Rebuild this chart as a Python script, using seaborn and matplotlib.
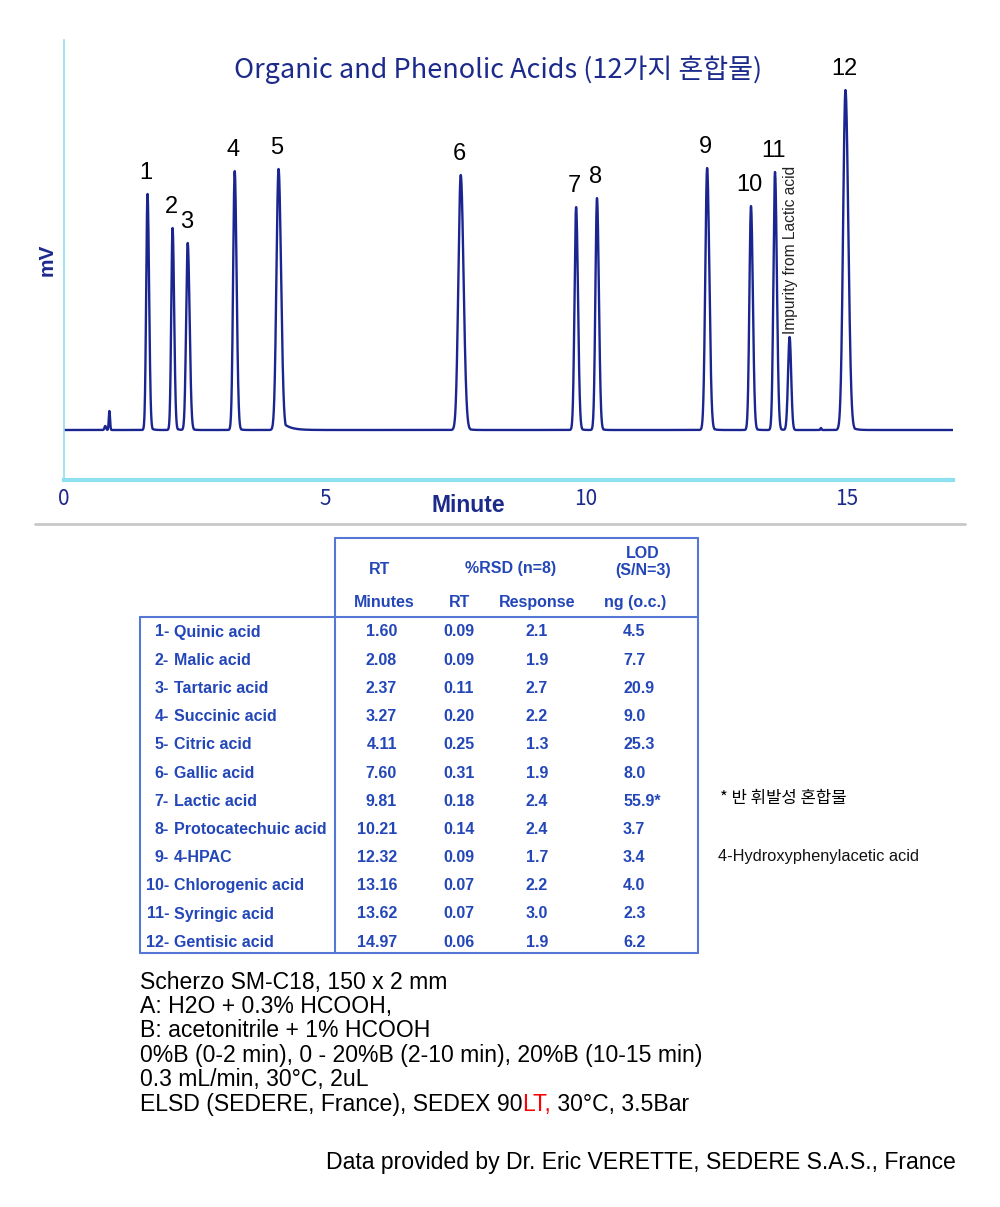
import numpy as np
import pandas as pd
import matplotlib
matplotlib.use("Agg")
import matplotlib.pyplot as plt
import seaborn as sns
from matplotlib.lines import Line2D

# peak data
peak_labels = ["1", "2", "3", "4", "5", "6", "7", "8", "9", "10", "11", "12"]
peak_rt = [1.60, 2.08, 2.37, 3.27, 4.11, 7.60, 9.81, 10.21, 12.32, 13.16, 13.62, 14.97]
peak_height = [236, 202, 187, 259, 261, 255, 223, 232, 262, 224, 258, 340]
peak_sigma = [0.025, 0.025, 0.03, 0.03, 0.04, 0.045, 0.03, 0.03, 0.035, 0.03, 0.03, 0.045]
peak_tail = [0.04, 0.04, 0.04, 0.04, 0.14, 0.06, 0.04, 0.04, 0.05, 0.04, 0.04, 0.07]

# minor peaks (void bump + impurity)
minor_rt = [0.79, 0.87, 13.90, 14.50]
minor_height = [4, 19, 93, 2]
minor_sigma = [0.015, 0.012, 0.03, 0.01]

# table
compounds = ["Quinic acid", "Malic acid", "Tartaric acid", "Succinic acid", "Citric acid",
             "Gallic acid", "Lactic acid", "Protocatechuic acid", "4-HPAC",
             "Chlorogenic acid", "Syringic acid", "Gentisic acid"]
rt_minutes = ["1.60", "2.08", "2.37", "3.27", "4.11", "7.60", "9.81", "10.21", "12.32", "13.16", "13.62", "14.97"]
rsd_rt = ["0.09", "0.09", "0.11", "0.20", "0.25", "0.31", "0.18", "0.14", "0.09", "0.07", "0.07", "0.06"]
rsd_response = ["2.1", "1.9", "2.7", "2.2", "1.3", "1.9", "2.4", "2.4", "1.7", "2.2", "3.0", "1.9"]
lod = ["4.5", "7.7", "20.9", "9.0", "25.3", "8.0", "55.9*", "3.7", "3.4", "4.0", "2.3", "6.2"]

conditions = [
    "Scherzo SM-C18, 150 x 2 mm",
    "A: H2O + 0.3% HCOOH,",
    "B: acetonitrile + 1% HCOOH",
    "0%B (0-2 min), 0 - 20%B (2-10 min), 20%B (10-15 min)",
    "0.3 mL/min, 30°C, 2uL",
]

sns.set_style("white")
plt.rcParams['font.family'] = ['Liberation Sans', 'Noto Sans CJK KR', 'DejaVu Sans']

NAVY = "#1c2a8c"
LINE = "#1a2590"
CYAN = "#8fe0ee"
TBLUE = "#2346b8"
TLINE = "#5577d6"

W, H = 1000, 1207
fig = plt.figure(figsize=(W / 100, H / 100), dpi=100)


def fx(px):
    return px / W


def fy(py):
    return 1 - py / H


# trace built from the peak table
t = np.linspace(0, 17.05, 6000)
signal = np.zeros_like(t)
for rt, h, s, tl in zip(peak_rt, peak_height, peak_sigma, peak_tail):
    left = np.exp(-0.5 * ((t - rt) / s) ** 2)
    sig = np.where(t < rt, left, np.exp(-0.5 * ((t - rt) / (s * 1.2)) ** 2))
    tailpart = np.where(t < rt, 0, 0.05 * np.exp(-(t - rt) / tl))
    signal += h * np.maximum(sig, tailpart)
for rt, h, s in zip(minor_rt, minor_height, minor_sigma):
    signal += h * np.exp(-0.5 * ((t - rt) / s) ** 2)
trace = pd.DataFrame({"min": t, "mV": signal})

ax = fig.add_axes([64 / W, 1 - 480 / H, 889 / W, 440 / H])
sns.lineplot(data=trace, x="min", y="mV", ax=ax, color=LINE, linewidth=1.7)
ax.set_xlim(0, 17.03)
ax.set_ylim(-50, 390)
ax.set_yticks([])
ax.set_xticks([0, 5, 10, 15])
ax.set_xticklabels(["0", "5", "10", "15"], fontsize=15, color=NAVY, family=['Noto Sans CJK KR'])
ax.tick_params(axis='x', direction='in', length=4, width=1.5, color=CYAN, pad=6)
for side in ["top", "right"]:
    ax.spines[side].set_visible(False)
ax.spines["left"].set_color(CYAN)
ax.spines["left"].set_linewidth(1.2)
ax.spines["bottom"].set_color(CYAN)
ax.spines["bottom"].set_linewidth(3)
ax.set_xlabel("")
fig.text(fx(468), fy(506), "Minute", ha="center", va="center", fontsize=16.5,
         fontweight="bold", color=NAVY)
ax.set_ylabel("mV", fontsize=15, fontweight="bold", color=NAVY, labelpad=5)
ax.set_title("Organic and Phenolic Acids (12가지 혼합물)", fontsize=19.5, color=NAVY,
             family=['Noto Sans CJK KR'], y=0.895, x=0.488)

for lab, rt, h in zip(peak_labels, peak_rt, peak_height):
    ax.annotate(lab, (rt, h), xytext=(-1, 7), textcoords="offset points",
                ha="center", va="bottom", fontsize=17, color="black")
ax.text(minor_rt[2] + 0.02, minor_height[2] + 3, "Impurity from Lactic acid", rotation=90,
        ha="center", va="bottom", fontsize=11.2, color="#222222")

# separator
fig.add_artist(Line2D([35 / W, 965 / W], [1 - 524 / H] * 2, color="#c8c8c8", lw=2))


def hline(x0, x1, y):
    fig.add_artist(Line2D([fx(x0), fx(x1)], [fy(y), fy(y)], color=TLINE, lw=1.5))


def vline(x, y0, y1):
    fig.add_artist(Line2D([fx(x), fx(x)], [fy(y0), fy(y1)], color=TLINE, lw=1.5))


hline(335, 698, 538)
hline(140, 698, 617)
hline(140, 698, 953)
vline(335, 538, 953)
vline(698, 538, 953)
vline(140, 617, 953)

tfont = dict(fontsize=11.5, fontweight="bold", color=TBLUE)
fig.text(fx(380), fy(569), "RT", ha="center", va="center", **tfont)
fig.text(fx(511), fy(568), "%RSD (n=8)", ha="center", va="center", **tfont)
fig.text(fx(643), fy(553), "LOD", ha="center", va="center", **tfont)
fig.text(fx(643), fy(570), "(S/N=3)", ha="center", va="center", **tfont)
fig.text(fx(384), fy(603), "Minutes", ha="center", va="center", **tfont)
fig.text(fx(459), fy(603), "RT", ha="center", va="center", **tfont)
fig.text(fx(537), fy(603), "Response", ha="center", va="center", **tfont)
fig.text(fx(635), fy(603), "ng (o.c.)", ha="center", va="center", **tfont)

for i, name in enumerate(compounds):
    y = fy(631 + 5.5 + i * 28.2)
    fig.text(fx(169), y, f"{i + 1}-", ha="right", va="baseline", **tfont)
    fig.text(fx(174), y, name, ha="left", va="baseline", **tfont)
    fig.text(fx(397), y, rt_minutes[i], ha="right", va="baseline", **tfont)
    fig.text(fx(459), y, rsd_rt[i], ha="center", va="baseline", **tfont)
    fig.text(fx(537), y, rsd_response[i], ha="center", va="baseline", **tfont)
    fig.text(fx(623), y, lod[i], ha="left", va="baseline", **tfont)

fig.text(fx(720), fy(798), "* 반 휘발성 혼합물", ha="left", va="center", fontsize=12,
         color="black", family=['Noto Sans CJK KR'])
fig.text(fx(718), fy(856), "4-Hydroxyphenylacetic acid", ha="left", va="center", fontsize=11.8,
         color="#111111")

FS = 16.6
for i, line in enumerate(conditions):
    fig.text(fx(140), fy(982 + i * 24.4), line, ha="left", va="center", fontsize=FS, color="black")

# last condition line with red part
y_last = fy(982 + 5 * 24.4)
t1 = fig.text(fx(140), y_last, "ELSD (SEDERE, France), SEDEX 90", ha="left", va="center",
              fontsize=FS, color="black")
fig.canvas.draw()
bb = t1.get_window_extent()
t2 = fig.text(bb.x1 / W, y_last, "LT,", ha="left", va="center", fontsize=FS, color="red")
bb2 = t2.get_window_extent()
fig.text(bb2.x1 / W, y_last, " 30°C, 3.5Bar", ha="left", va="center", fontsize=FS, color="black")

fig.text(fx(956), fy(1162), "Data provided by Dr. Eric VERETTE, SEDERE S.A.S., France",
         ha="right", va="center", fontsize=FS, color="black")

fig.savefig("out.png", dpi=100)
